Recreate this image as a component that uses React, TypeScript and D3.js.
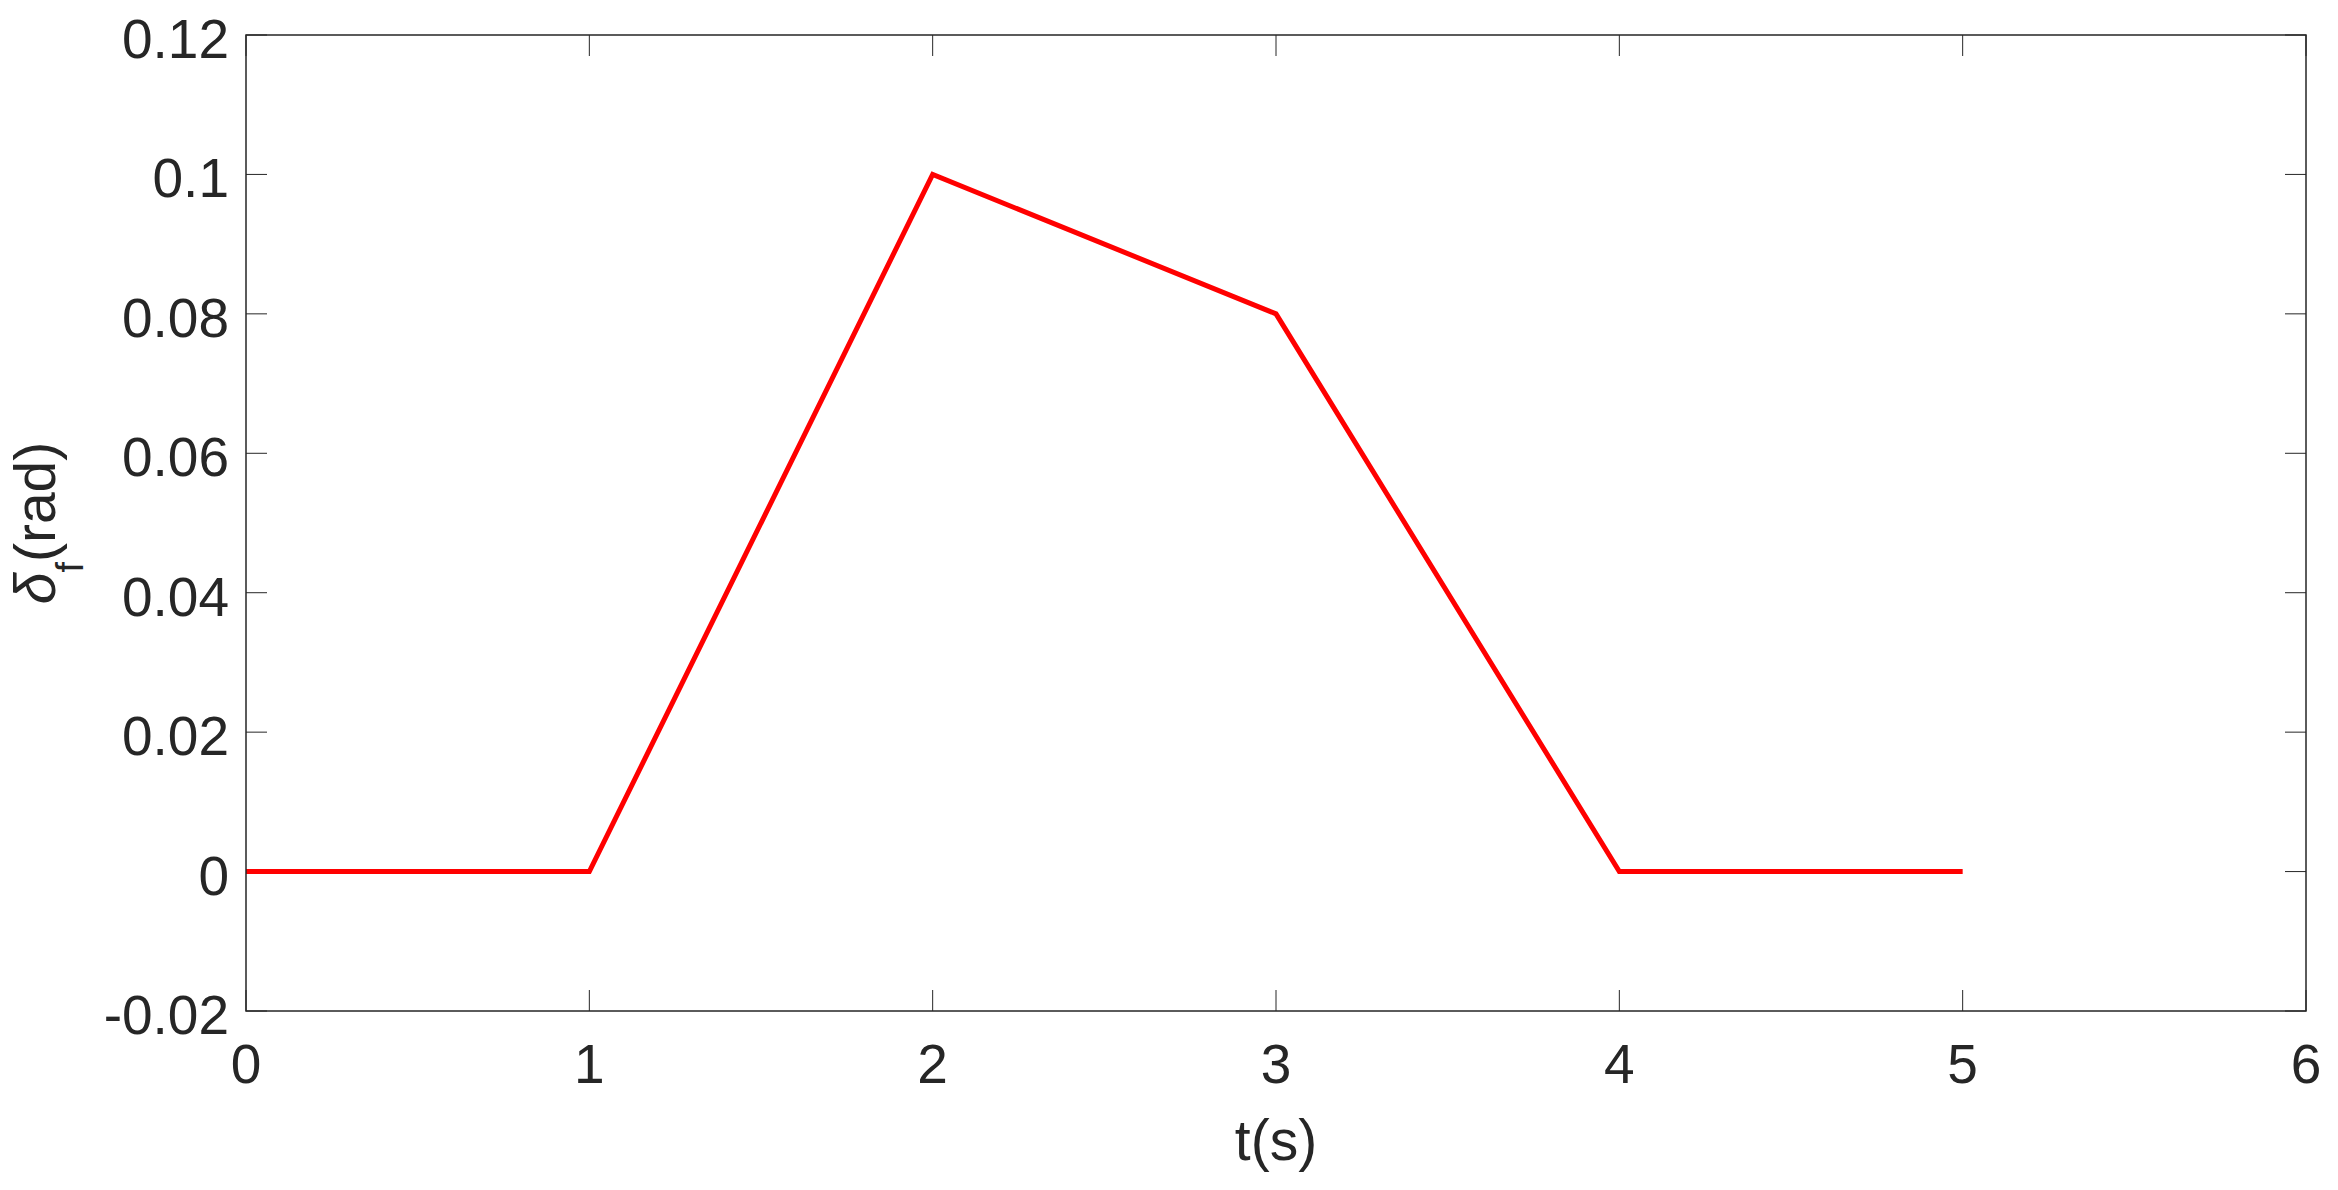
import React from 'react';
import * as d3 from 'd3';

const times = [0, 1, 2, 3, 4, 5];
const angles = [0, 0, 0.1, 0.08, 0, 0];
const xTicks = [0, 1, 2, 3, 4, 5, 6];
const yTicks = [-0.02, 0, 0.02, 0.04, 0.06, 0.08, 0.1, 0.12];

const App = () => {
  const width = 2338;
  const height = 1190;
  const margin = { left: 246, right: 32, top: 35, bottom: 179 };
  const font = '"Liberation Sans", Arial, Helvetica, sans-serif';
  const axisColor = '#262626';
  const tickLen = 21;

  const x = d3.scaleLinear().domain([0, 6]).range([margin.left, width - margin.right]);
  const y = d3.scaleLinear().domain([-0.02, 0.12]).range([height - margin.bottom, margin.top]);

  const line = d3
    .line<number>()
    .x((_, i) => x(times[i]))
    .y((d) => y(d));

  const x0 = x.range()[0];
  const x1 = x.range()[1];
  const y0 = y.range()[0];
  const y1 = y.range()[1];

  return (
    <div style={{ position: 'absolute', left: 0, top: 0 }}>
      <svg width={width} height={height} style={{ display: 'block', background: '#fff' }}>
        <rect x={0} y={0} width={width} height={height} fill="#ffffff" />

        {/* ticks, mirrored on all four sides */}
        {xTicks.map((t) => (
          <g key={'xt' + t}>
            <line x1={x(t)} x2={x(t)} y1={y0} y2={y0 - tickLen} stroke={axisColor} strokeWidth={1} />
            <line x1={x(t)} x2={x(t)} y1={y1} y2={y1 + tickLen} stroke={axisColor} strokeWidth={1} />
            <text
              x={x(t)}
              y={y0 + 72}
              textAnchor="middle"
              fontFamily={font}
              fontSize={55}
              fill={axisColor}
            >
              {t}
            </text>
          </g>
        ))}
        {yTicks.map((t) => (
          <g key={'yt' + t}>
            <line x1={x0} x2={x0 + tickLen} y1={y(t)} y2={y(t)} stroke={axisColor} strokeWidth={1} />
            <line x1={x1} x2={x1 - tickLen} y1={y(t)} y2={y(t)} stroke={axisColor} strokeWidth={1} />
            <text
              x={x0 - 17}
              y={y(t) + 23}
              textAnchor="end"
              fontFamily={font}
              fontSize={55}
              fill={axisColor}
            >
              {t}
            </text>
          </g>
        ))}

        {/* data */}
        <path d={line(angles) || ''} fill="none" stroke="#ff0000" strokeWidth={5} strokeLinejoin="miter" />

        {/* box */}
        <rect x={x0} y={y1} width={x1 - x0} height={y0 - y1} fill="none" stroke={axisColor} strokeWidth={1.5} />

        {/* axis titles */}
        <text
          x={(x0 + x1) / 2}
          y={1160}
          textAnchor="middle"
          fontFamily={font}
          fontSize={57}
          fill={axisColor}
        >
          t(s)
        </text>
        <text
          transform={`translate(55, ${(y0 + y1) / 2}) rotate(-90)`}
          textAnchor="middle"
          fontFamily={font}
          fontSize={57}
          fill={axisColor}
        >
          <tspan fontStyle="italic">δ</tspan>
          <tspan fontSize={38} dy={28}>f</tspan>
          <tspan dy={-28}>(rad)</tspan>
        </text>
      </svg>
    </div>
  );
};

export default App;
